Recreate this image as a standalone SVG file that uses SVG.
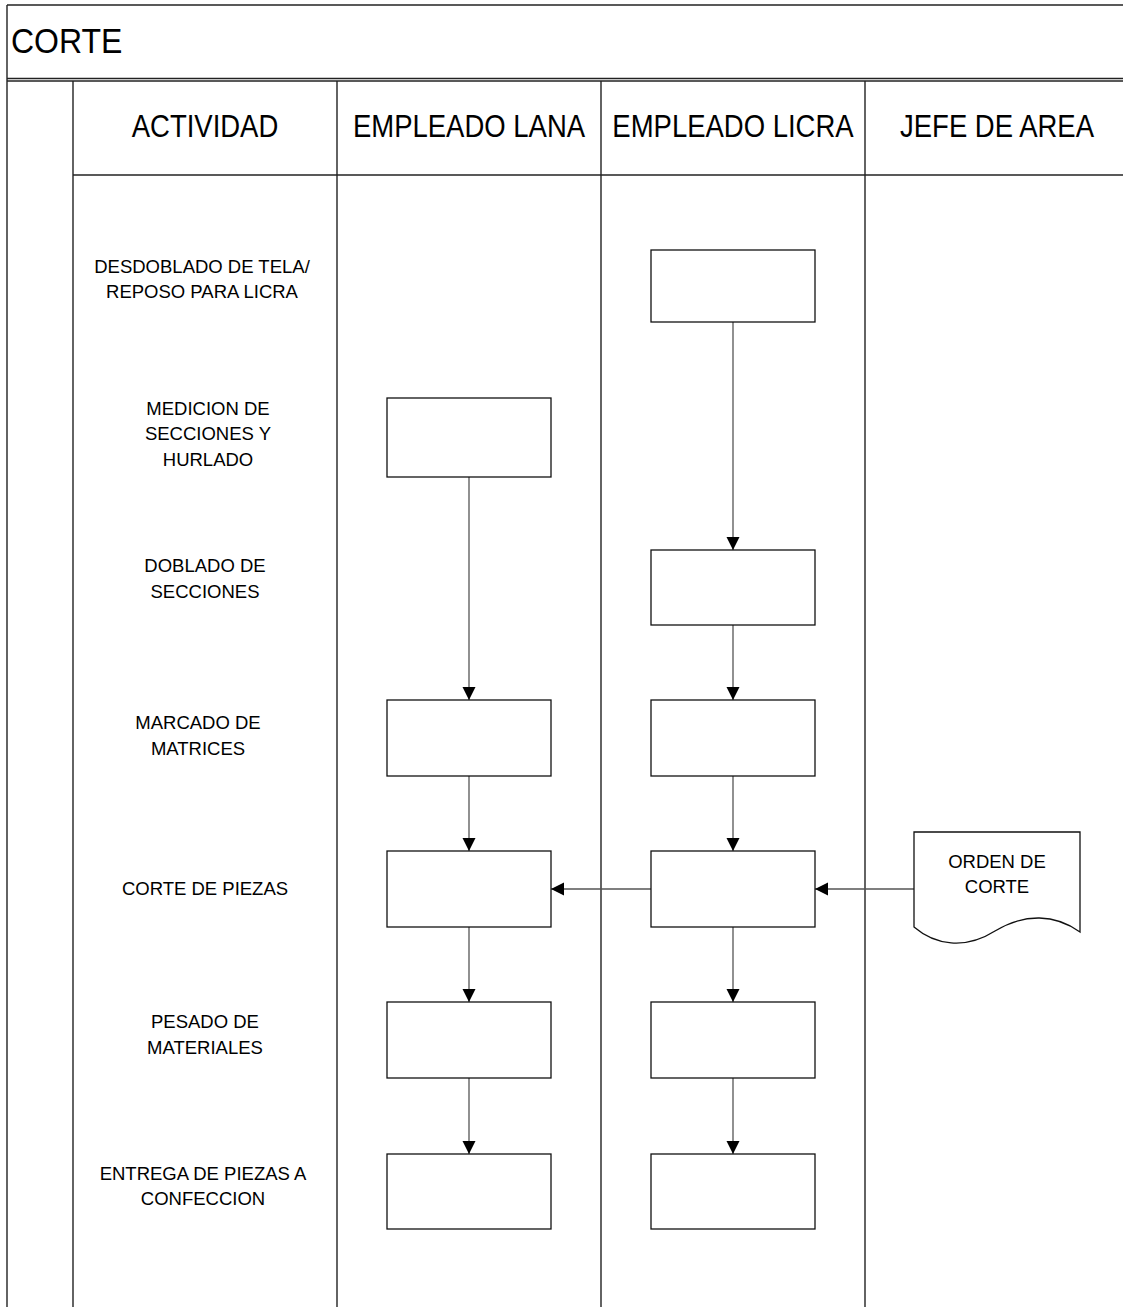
<svg xmlns="http://www.w3.org/2000/svg" width="1123" height="1307" viewBox="0 0 1123 1307">
  <style>
    .grid { stroke: #222; stroke-width: 1.4; fill: none; }
    .box { fill: #fff; stroke: #111; stroke-width: 1.3; }
    .conn { stroke: #555; stroke-width: 1.3; fill: none; marker-end: url(#arrow); }
    .title { font-family: "Liberation Sans", Arial, sans-serif; font-size: 32px; fill: #000; }
    .head { font-family: "Liberation Sans", Arial, sans-serif; font-size: 27.5px; fill: #000; text-anchor: middle; }
    .lbl { font-family: "Liberation Sans", Arial, sans-serif; font-size: 18.5px; fill: #000; text-anchor: middle; }
  </style>
  <defs>
    <marker id="arrow" markerUnits="userSpaceOnUse" markerWidth="14" markerHeight="14" refX="13" refY="6.5" orient="auto">
      <path d="M0,0 L13,6.5 L0,13 Z" fill="#000"/>
    </marker>
  </defs>
  <rect width="1123" height="1307" fill="#fff"/>

  <!-- swimlane frame -->
  <g id="frame">
    <line class="grid" x1="7" y1="5" x2="1123" y2="5"/>
    <line class="grid" x1="7" y1="5" x2="7" y2="1307"/>
    <line class="grid" x1="7" y1="78.5" x2="1123" y2="78.5"/>
    <line class="grid" x1="7" y1="81" x2="1123" y2="81"/>
    <line class="grid" x1="73" y1="175" x2="1123" y2="175"/>
    <line class="grid" x1="73" y1="81" x2="73" y2="1307"/>
    <line class="grid" x1="337" y1="81" x2="337" y2="1307"/>
    <line class="grid" x1="601" y1="81" x2="601" y2="1307"/>
    <line class="grid" x1="865" y1="81" x2="865" y2="1307"/>
    <text class="title" transform="translate(11,53) scale(1,1.1)">CORTE</text>
    <text class="head" transform="translate(205,137) scale(1,1.17)">ACTIVIDAD</text>
    <text class="head" transform="translate(469,137) scale(1,1.17)">EMPLEADO LANA</text>
    <text class="head" transform="translate(733,137) scale(1,1.17)">EMPLEADO LICRA</text>
    <text class="head" transform="translate(997,137) scale(1,1.17)">JEFE DE AREA</text>
  </g>

  <!-- activity labels -->
  <g id="activities">
    <text class="lbl" x="202" y="273">DESDOBLADO DE TELA/</text>
    <text class="lbl" x="202" y="298">REPOSO PARA LICRA</text>
    <text class="lbl" x="208" y="415">MEDICION DE</text>
    <text class="lbl" x="208" y="440">SECCIONES Y</text>
    <text class="lbl" x="208" y="466">HURLADO</text>
    <text class="lbl" x="205" y="572">DOBLADO DE</text>
    <text class="lbl" x="205" y="598">SECCIONES</text>
    <text class="lbl" x="198" y="729">MARCADO DE</text>
    <text class="lbl" x="198" y="755">MATRICES</text>
    <text class="lbl" x="205" y="895">CORTE DE PIEZAS</text>
    <text class="lbl" x="205" y="1028">PESADO DE</text>
    <text class="lbl" x="205" y="1054">MATERIALES</text>
    <text class="lbl" x="203" y="1180">ENTREGA DE PIEZAS A</text>
    <text class="lbl" x="203" y="1205">CONFECCION</text>
  </g>

  <!-- connectors -->
  <g id="connectors">
    <line class="conn" x1="733" y1="322" x2="733" y2="550"/>
    <line class="conn" x1="733" y1="625" x2="733" y2="700"/>
    <line class="conn" x1="733" y1="776" x2="733" y2="851"/>
    <line class="conn" x1="733" y1="927" x2="733" y2="1002"/>
    <line class="conn" x1="733" y1="1078" x2="733" y2="1154"/>
    <line class="conn" x1="469" y1="477" x2="469" y2="700"/>
    <line class="conn" x1="469" y1="776" x2="469" y2="851"/>
    <line class="conn" x1="469" y1="927" x2="469" y2="1002"/>
    <line class="conn" x1="469" y1="1078" x2="469" y2="1154"/>
    <line class="conn" x1="651" y1="889" x2="551" y2="889"/>
    <line class="conn" x1="914" y1="889" x2="815" y2="889"/>
  </g>

  <!-- process nodes: empleado licra -->
  <g id="licra-desdoblado"><rect class="box" x="651" y="250" width="164" height="72"/></g>
  <g id="licra-doblado"><rect class="box" x="651" y="550" width="164" height="75"/></g>
  <g id="licra-marcado"><rect class="box" x="651" y="700" width="164" height="76"/></g>
  <g id="licra-corte"><rect class="box" x="651" y="851" width="164" height="76"/></g>
  <g id="licra-pesado"><rect class="box" x="651" y="1002" width="164" height="76"/></g>
  <g id="licra-entrega"><rect class="box" x="651" y="1154" width="164" height="75"/></g>

  <!-- process nodes: empleado lana -->
  <g id="lana-medicion"><rect class="box" x="387" y="398" width="164" height="79"/></g>
  <g id="lana-marcado"><rect class="box" x="387" y="700" width="164" height="76"/></g>
  <g id="lana-corte"><rect class="box" x="387" y="851" width="164" height="76"/></g>
  <g id="lana-pesado"><rect class="box" x="387" y="1002" width="164" height="76"/></g>
  <g id="lana-entrega"><rect class="box" x="387" y="1154" width="164" height="75"/></g>

  <!-- document node: jefe de area -->
  <g id="orden-de-corte">
    <path class="box" d="M914,832 H1080 V932 C1055,914 1025,913 995,931 C965,950 935,945 914,927 Z"/>
    <text class="lbl" x="997" y="868">ORDEN DE</text>
    <text class="lbl" x="997" y="893">CORTE</text>
  </g>
</svg>
